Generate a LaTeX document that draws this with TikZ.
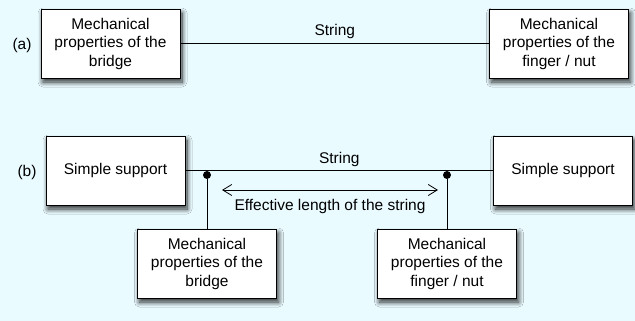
\documentclass[tikz,border=0pt]{standalone}
\usepackage{fontspec}
\setmainfont{Liberation Sans}
\usetikzlibrary{arrows.meta, positioning, shadows.blur}
\definecolor{fondo}{RGB}{234,251,255}

\begin{document}
\begin{tikzpicture}[x=1pt, y=-1pt,
		caja/.style={draw, thick, fill=white, minimum width=139pt, minimum height=69pt,
			align=center, inner sep=2pt, font=\fontsize{15.5}{18.5}\selectfont,
			blur shadow={shadow xshift=2pt, shadow yshift=-4pt, shadow blur radius=5pt,
				shadow blur steps=10, shadow opacity=85}},
		texto/.style={font=\fontsize{15.5}{18.5}\selectfont},
		punto/.style={circle, fill=black, inner sep=0pt, minimum size=8pt}]
			
			% Fondo
			\fill[fondo] (0,0) rectangle (635,321);
			\useasboundingbox (0,0) rectangle (635,321);
			
			% Dibujar nodos (a)
			\node[caja] (bridgeA) at (110.5,43.5) {Mechanical\\properties of the\\bridge};
			\node[caja] (nutA) at (559,43.5) {Mechanical\\properties of the\\finger / nut};
			
			% Dibujar nodos (b)
			\node[caja] (supportL) at (115.5,170.5) {Simple support};
			\node[caja] (supportR) at (563,170.5) {Simple support};
			\node[caja] (bridgeB) at (207,263.5) {Mechanical\\properties of the\\bridge};
			\node[caja] (nutB) at (447,263.5) {Mechanical\\properties of the\\finger / nut};
			\node[punto] (dotL) at (207,175) {};
			\node[punto] (dotR) at (447,175) {};
			\coordinate (arrL) at (222,190);
			\coordinate (arrR) at (438,190);
			
			% Dibujar las cuerdas
			\draw[thick] (bridgeA) -- (nutA) node[midway, above=1pt, texto] {String};
			\draw[thick] (supportL) -- (supportR) node[midway, above=0pt, texto] {String};
			\draw[thick] (dotL) -- (dotL |- bridgeB.north);
			\draw[thick] (dotR) -- (dotR |- nutB.north);
			
			% Dibujar la flecha
			\draw[thick, {Straight Barb[length=9pt, width=11pt]}-{Straight Barb[length=9pt, width=11pt]}] (arrL) -- (arrR)
				node[midway, below=6pt, texto] {Effective length of the string};
			
			% Etiquetas
			\node[texto] (labA) at (22,45) {(a)};
			\node[texto] (labB) at (27,172) {(b)};
			
		\end{tikzpicture}
\end{document}
